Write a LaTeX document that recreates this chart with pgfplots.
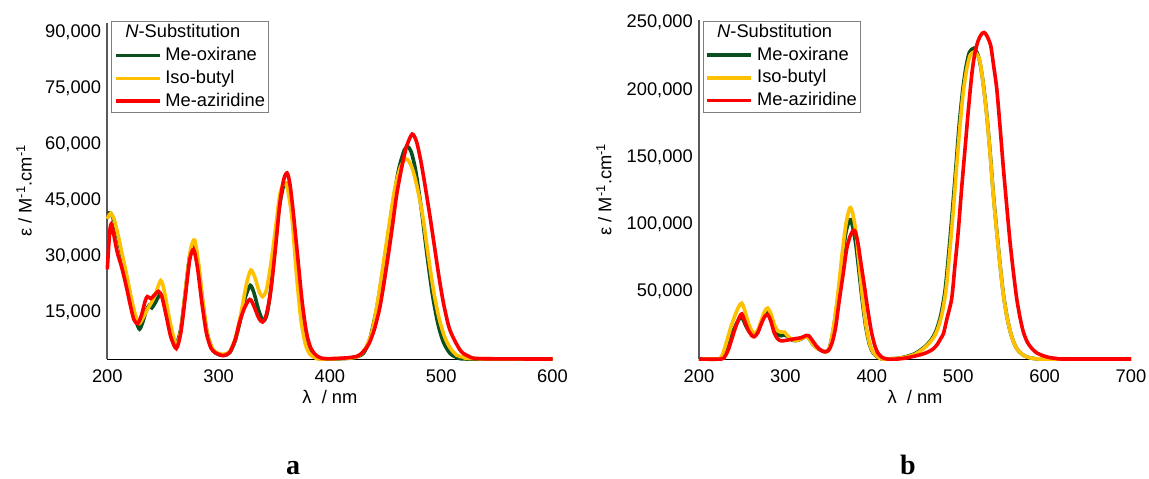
\documentclass[border=0pt]{standalone}
\usepackage{fontspec}
\setmainfont{Liberation Sans}
\newfontfamily\panelfont{Liberation Serif}
\usepackage{pgfplots}
\usepackage{pgfplotstable}
\pgfplotsset{compat=1.18}

\definecolor{cgreen}{RGB}{10,80,30}
\definecolor{cyellow}{RGB}{255,192,0}
\definecolor{cred}{RGB}{255,0,0}

% ---- panel a ----
\pgfplotstableread{
x y
200 41500
203 41500
206 39500
210 34500
214 29000
218 23500
222 17500
226 12500
229 10500
232 12500
235 15500
237.5 16800
240 16200
243 17500
247 19600
250 19000
254 13500
258 8500
262 6500
266 10500
270 20000
274 30000
278 33500
282 27000
286 17000
290 9000
295 4800
300 3700
305 3500
310 4200
315 7500
320 13500
324 19000
328.5 22200
332 20000
336 15500
340 12700
343 14000
346 19000
350 30000
354 42000
358 48500
361 49500
364 46000
368 36000
372 22000
376 11000
380 5500
385 3200
390 2600
400 2500
420 2800
430 4000
436 8000
442 16000
447 25000
452 35000
457 45000
462 53500
467 58500
470 59300
473 58000
477 53000
482 43000
487 31000
492 20000
497 12000
502 7000
508 4000
515 2800
525 2500
600 2500
}\aoxirane

\pgfplotstableread{
x y
200 40000
203 41500
206 40000
209 36500
213 31000
217 25500
221 19500
225 14500
228.5 12000
232 13500
236 15800
240 17800
244 20500
248 23500
251 21000
255 14500
259 9000
263 6200
267 12000
271 23000
275 32000
278.5 34300
282 28000
286 17500
290 9000
295 5000
300 4000
305 3800
310 4500
315 8000
320 14500
325 22500
329 26300
333 24000
336.5 20500
339.5 19200
343 21000
347 28000
351 37000
355 46500
359 49800
362 48000
366 40000
370 25000
374 13000
378 6500
382 3800
387 2800
392 2500
420 2800
428 3800
433 6000
438 10000
443 18000
448 28000
453 38000
458 47500
463 53500
467 55800
470 55800
474 53500
478 49000
483 41500
488 31000
493 21000
498 13500
503 8500
508 5500
514 3500
520 3000
528 2600
600 2500
}\aisobutyl

\pgfplotstableread{
x y
200 26500
202 36000
203.5 38600
206 35500
209 31000
213 27000
217 22000
221 16500
224 13000
227.5 12000
231 14500
234 18000
236 19200
239 18700
242 19500
246 20600
249 19200
253 14000
257 8500
262 5300
266 9500
270 19000
274 29000
277.5 31800
281 27000
285 17500
289 9500
293 5500
297 4200
304 3400
310 4300
315 7800
319 12500
323 16000
327 18200
329 18300
332 16500
336 13500
339.5 12400
343 14500
347 21000
351 32000
355 44000
358.5 50500
361.5 52300
364 49500
367 42000
371 30000
375 18000
379 9500
383 5300
388 3400
393 2700
400 2600
415 2800
425 3300
430 4500
435 6500
440 10500
445 16500
450 25500
455 35500
460 46500
465 54500
469 59500
474 62700
478 60500
482 55000
486 48000
490 40500
494 32500
498 24500
502 17500
507 11000
512 7500
518 4500
525 3200
535 2600
600 2500
}\aaziridine

% ---- panel b ----
\pgfplotstableread{
x y
200 0
224 0
229 3000
234 11000
239 20000
244 27000
247.5 30500
250.5 30000
254 25000
258 20500
262 18200
265 18000
269 22000
273 29000
277 33500
280 35000
283.5 32000
287 24000
291 18500
295 17300
299 17800
303 16500
308 14000
313 13800
318 14800
323 16500
327 15500
332 10800
338 7500
343 6000
347 5500
351 8000
356 24000
361 47000
366 75000
370 94000
373.5 102000
375.5 103500
378 98000
381.5 85000
385 66000
389 43000
393 24000
397 11500
401 5000
406 1800
412 0
430 500
440 1800
450 4000
455 6000
463 10000
470 15500
475 22000
480 33000
485 52000
489.5 82000
493.5 112000
497.5 144000
501 173000
505 198600
509 217000
513 228000
518 231000
521.5 228000
525 221000
529 204500
533 182000
537 153000
540.6 123000
544.5 96000
548.4 70500
552 49500
556 33000
560 21000
564 12800
568 7500
575 3000
582 1000
590 200
600 0
700 0
}\boxirane

\pgfplotstableread{
x y
200 0
222 0
227 3000
232 13000
237 24000
242 33000
246 39000
249.5 41500
253 36000
257 27000
261 21000
264.5 19000
268 21500
272 28500
276 35500
279.5 37800
283 34000
287 26000
291 21000
296 20000
299 20000
303 16800
308 14500
313 13800
318 15000
323 16500
327 15500
332 10800
338 7500
343 6000
347 5500
351 8000
356 25000
361 50000
366 80000
370 100000
373.5 110500
375.5 112500
378 108000
381.5 95000
385 73000
389 47000
393 26000
397 12500
401 5500
406 2000
412 0
430 500
440 1500
450 3500
455 5400
463 9500
471 15400
476 22000
481 32700
486 52000
490.5 82000
494.5 112000
498.3 144000
502 173000
505.9 198600
510 216000
514 226000
519 228300
522 226000
525.2 221000
529 204000
533 181300
537 152000
540.6 122000
544.5 95000
548.4 70000
552 49000
556 32700
560 21000
564 12800
568 7500
575 3000
582 1000
590 200
600 0
700 0
}\bisobutyl

\pgfplotstableread{
x y
200 0
226 0
230 2000
234 7000
238 15000
242 23000
246 30000
249.5 33500
253 28000
257 21500
261 17500
264 16500
268 19500
272 26000
276 31500
279.5 33000
283 28500
287 19500
291 15000
295 13500
300 13800
306 14500
312 15200
318 15800
324 17500
327 17300
331 14000
336 9500
341 6500
345.5 5300
350 6500
354 12000
358 23000
362 42000
367 64000
371 82000
375 91500
378.5 95500
381 94500
384 86000
387 73000
391 56000
395 38000
399 22000
403 11000
407 4500
412 1200
418 0
430 0
440 800
450 2200
458 3500
465 5200
471 7500
476 11000
480 15500
483 19000
487 30000
492.5 45000
496 68000
500 94500
504 127000
508 157000
512 187000
516 213000
519.5 228000
523.3 237000
527 241500
530 242700
533 240500
537.6 233000
541 218000
544.6 201000
548.5 172000
552 144000
556 115000
560 87000
564 64000
567.7 45000
571.5 31000
575.3 20300
580 12500
585 8000
591 4500
598.5 2400
606 1000
614 400
622 0
700 0
}\baziridine

\pgfplotsset{
  spectrum/.style={
    scale only axis,
    clip=false,
    scaled x ticks=false,
    scaled y ticks=false,
    axis x line*=bottom,
    axis y line*=left,
    axis line style={-},
    x axis line style={black, line width=1pt},
    y axis line style={black!65, line width=1.6pt},
    major tick length=0pt,
    xticklabel style={anchor=north, inner sep=0pt, yshift=-11pt},
    yticklabel style={anchor=east, inner sep=0pt, xshift=-6pt},
    xlabel={λ~~/ nm},
    ylabel={ε / M\textsuperscript{-1}.cm\textsuperscript{-1}},
    xlabel style={at={(axis description cs:0.5,0)}, anchor=base, yshift=-44pt, inner sep=0pt},
    legend cell align=left,
    legend style={draw=black!50, line width=0.8pt, inner sep=2.5pt,
      row sep=4.7pt, column sep=3pt,
      nodes={text height=13pt, text depth=3pt, inner sep=1pt}},
    legend image code/.code={\draw[#1] (0pt,0pt) -- (44pt,0pt);},
    every axis plot/.append style={smooth, tension=0.45, line width=3.6pt},
  }
}

\begin{document}
\begin{tikzpicture}[font=\fontsize{18.3}{22}\selectfont]
\path[use as bounding box] (0,0) rectangle (1149pt,-479pt);

\begin{axis}[spectrum,
  at={(107.3pt,-359pt)}, anchor=south west,
  width=445.2pt, height=336.3pt,
  xmin=200, xmax=600, ymin=2500, ymax=92500,
  xtick={200,300,400,500,600},
  xticklabels={200,300,400,500,600},
  ytick={15000,30000,45000,60000,75000,90000},
  yticklabels={{15,000},{30,000},{45,000},{60,000},{75,000},{90,000}},
  ylabel style={at={(axis description cs:-0.187,0.5)}, anchor=center},
  legend style={at={(axis description cs:0.008,1.005)}, anchor=north west},
]
\addlegendimage{empty legend}
\addlegendentry{\hspace{-40pt}\textit{N}-Substitution}
\addplot[cgreen] table {\aoxirane};
\addlegendentry{Me-oxirane}
\addplot[cyellow] table {\aisobutyl};
\addlegendentry{Iso-butyl}
\addplot[cred] table {\aaziridine};
\addlegendentry{Me-aziridine}
\end{axis}

\begin{axis}[spectrum,
  at={(699pt,-359pt)}, anchor=south west,
  width=432pt, height=339pt,
  xmin=200, xmax=700, ymin=0, ymax=252000,
  xtick={200,300,400,500,600,700},
  xticklabels={200,300,400,500,600,700},
  ytick={50000,100000,150000,200000,250000},
  yticklabels={{50,000},{100,000},{150,000},{200,000},{250,000}},
  ylabel style={at={(axis description cs:-0.22,0.5)}, anchor=center},
  legend style={at={(axis description cs:0.0086,0.998)}, anchor=north west},
]
\addlegendimage{empty legend}
\addlegendentry{\hspace{-40pt}\textit{N}-Substitution}
\addplot[cgreen] table {\boxirane};
\addlegendentry{Me-oxirane}
\addplot[cyellow] table {\bisobutyl};
\addlegendentry{Iso-butyl}
\addplot[cred] table {\baziridine};
\addlegendentry{Me-aziridine}
\end{axis}

\node[anchor=base, inner sep=0pt, font=\panelfont\bfseries\fontsize{28}{32}\selectfont] at (293pt,-474pt) {a};
\node[anchor=base, inner sep=0pt, font=\panelfont\bfseries\fontsize{28}{32}\selectfont] at (908pt,-474pt) {b};
\end{tikzpicture}
\end{document}
